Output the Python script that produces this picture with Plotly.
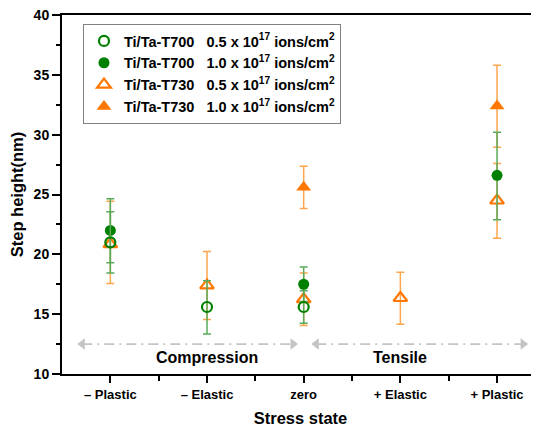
import plotly.graph_objects as go

# ---- data ----
categories = ["\u2013 Plastic", "\u2013 Elastic", "zero", "+ Elastic", "+ Plastic"]
x_pos = [1, 2, 3, 4, 5]

t700_05 = [21.0, 15.6, 15.6, None, None]
t700_05_err_p = [2.55, 2.2, 1.35, 0, 0]
t700_05_err_m = [2.55, 2.25, 1.35, 0, 0]

t700_10 = [22.0, None, 17.5, None, 26.6]
t700_10_err_p = [2.65, 0, 1.45, 0, 3.6]
t700_10_err_m = [2.7, 0, 1.45, 0, 3.7]

t730_05 = [20.85, 17.4, 16.25, 16.35, 24.5]
t730_05_err_p = [3.58, 2.83, 2.2, 2.15, 3.1]
t730_05_err_m = [3.28, 2.85, 2.2, 2.2, 3.15]

t730_10 = [None, None, 25.6, None, 32.4]
t730_10_err_p = [0, 0, 1.76, 0, 3.4]
t730_10_err_m = [0, 0, 1.76, 0, 3.45]

y_ticks = [10, 15, 20, 25, 30, 35, 40]

series_names = [
    "Ti/Ta-T700\u00a0\u00a0\u00a00.5 x 10<sup>17</sup> ions/cm<sup>2</sup>",
    "Ti/Ta-T700\u00a0\u00a0\u00a01.0 x 10<sup>17</sup> ions/cm<sup>2</sup>",
    "Ti/Ta-T730\u00a0\u00a0\u00a00.5 x 10<sup>17</sup> ions/cm<sup>2</sup>",
    "Ti/Ta-T730\u00a0\u00a0\u00a01.0 x 10<sup>17</sup> ions/cm<sup>2</sup>",
]

region_labels = ["Compression", "Tensile"]
region_label_x = [2, 4]
region_label_y = 11.35
arrow_y = 12.5
arrow_spans = [[0.71, 2.89], [3.13, 5.27]]

GREEN = "#008000"
GREEN_ERR = "#5aaa5a"
ORANGE = "#ff7700"
ORANGE_ERR = "#ffa64d"
FONT = "Liberation Sans, Arial, sans-serif"

fig = go.Figure()

# region arrows (drawn first, under data)
for span in arrow_spans:
    fig.add_trace(go.Scatter(
        x=span, y=[arrow_y, arrow_y], mode="lines+markers",
        line=dict(color="#c4c4c4", width=1.6, dash="10px,5px,2px,5px"),
        marker=dict(symbol=["triangle-left", "triangle-right"], size=10,
                    color="#c4c4c4", line=dict(width=0)),
        showlegend=False, hoverinfo="skip", cliponaxis=False))

def err(p, m, color):
    return dict(type="data", symmetric=False, array=p, arrayminus=m,
                color=color, thickness=1.5, width=4)

fig.add_trace(go.Scatter(
    x=x_pos, y=t730_10, mode="markers", name=series_names[3],
    marker=dict(symbol="triangle-up", size=13, color=ORANGE),
    error_y=err(t730_10_err_p, t730_10_err_m, ORANGE_ERR), legendrank=4))

fig.add_trace(go.Scatter(
    x=x_pos, y=t730_05, mode="markers", name=series_names[2],
    marker=dict(symbol="triangle-up-open", size=12, color=ORANGE, line=dict(width=2.2, color=ORANGE)),
    error_y=err(t730_05_err_p, t730_05_err_m, ORANGE_ERR), legendrank=3))

fig.add_trace(go.Scatter(
    x=x_pos, y=t700_10, mode="markers", name=series_names[1],
    marker=dict(symbol="circle", size=11, color=GREEN),
    error_y=err(t700_10_err_p, t700_10_err_m, GREEN_ERR), legendrank=2))

fig.add_trace(go.Scatter(
    x=x_pos, y=t700_05, mode="markers", name=series_names[0],
    marker=dict(symbol="circle-open", size=10, color=GREEN, line=dict(width=2.2, color=GREEN)),
    error_y=err(t700_05_err_p, t700_05_err_m, GREEN_ERR), legendrank=1))

for lab, lx in zip(region_labels, region_label_x):
    fig.add_annotation(x=lx, y=region_label_y, text=lab, showarrow=False,
                       font=dict(family=FONT, size=16, color="black", weight="bold"))

# page body has an 8px default margin, so the figure is 8px smaller than the window
fig.update_layout(
    width=531, height=419,
    margin=dict(l=54, r=0, t=7, b=53),
    paper_bgcolor="white", plot_bgcolor="white",
    font=dict(family=FONT, color="black"),
    legend=dict(x=0.044, y=0.975, xanchor="left", yanchor="top",
                bordercolor="#808080", borderwidth=1, bgcolor="white",
                font=dict(family=FONT, size=14.5, color="black", weight="bold"),
                traceorder="normal"),
    xaxis=dict(range=[0.5, 5.434], tickmode="array", tickvals=x_pos, ticktext=categories,
               showgrid=False, zeroline=False, showline=True, linecolor="black", linewidth=2,
               mirror=True, ticks="outside", ticklen=7, tickwidth=1.5, tickcolor="black",
               ticklabeloverflow="allow",
               tickfont=dict(family=FONT, size=13, color="black", weight="bold"),
               minor=dict(tickmode="array", tickvals=[1.5, 2.5, 3.5, 4.5], ticks="outside",
                          ticklen=5, tickwidth=1.5, tickcolor="black"),
               title=dict(text="Stress state", standoff=12,
                          font=dict(family=FONT, size=16.5, color="black", weight="bold"))),
    yaxis=dict(range=[10, 40], tickmode="array", tickvals=y_ticks,
               showgrid=False, zeroline=False, showline=True, linecolor="black", linewidth=2,
               ticks="outside", ticklen=8, tickwidth=1.5, tickcolor="black",
               ticklabeloverflow="allow",
               tickfont=dict(family=FONT, size=14, color="black", weight="bold"),
               minor=dict(dtick=2.5, tick0=10, ticks="outside", ticklen=4, tickwidth=1.5,
                          tickcolor="black"),
               title=dict(text="Step height(nm)", standoff=8,
                          font=dict(family=FONT, size=16.5, color="black", weight="bold"))),
)

fig.write_html("out.html")
